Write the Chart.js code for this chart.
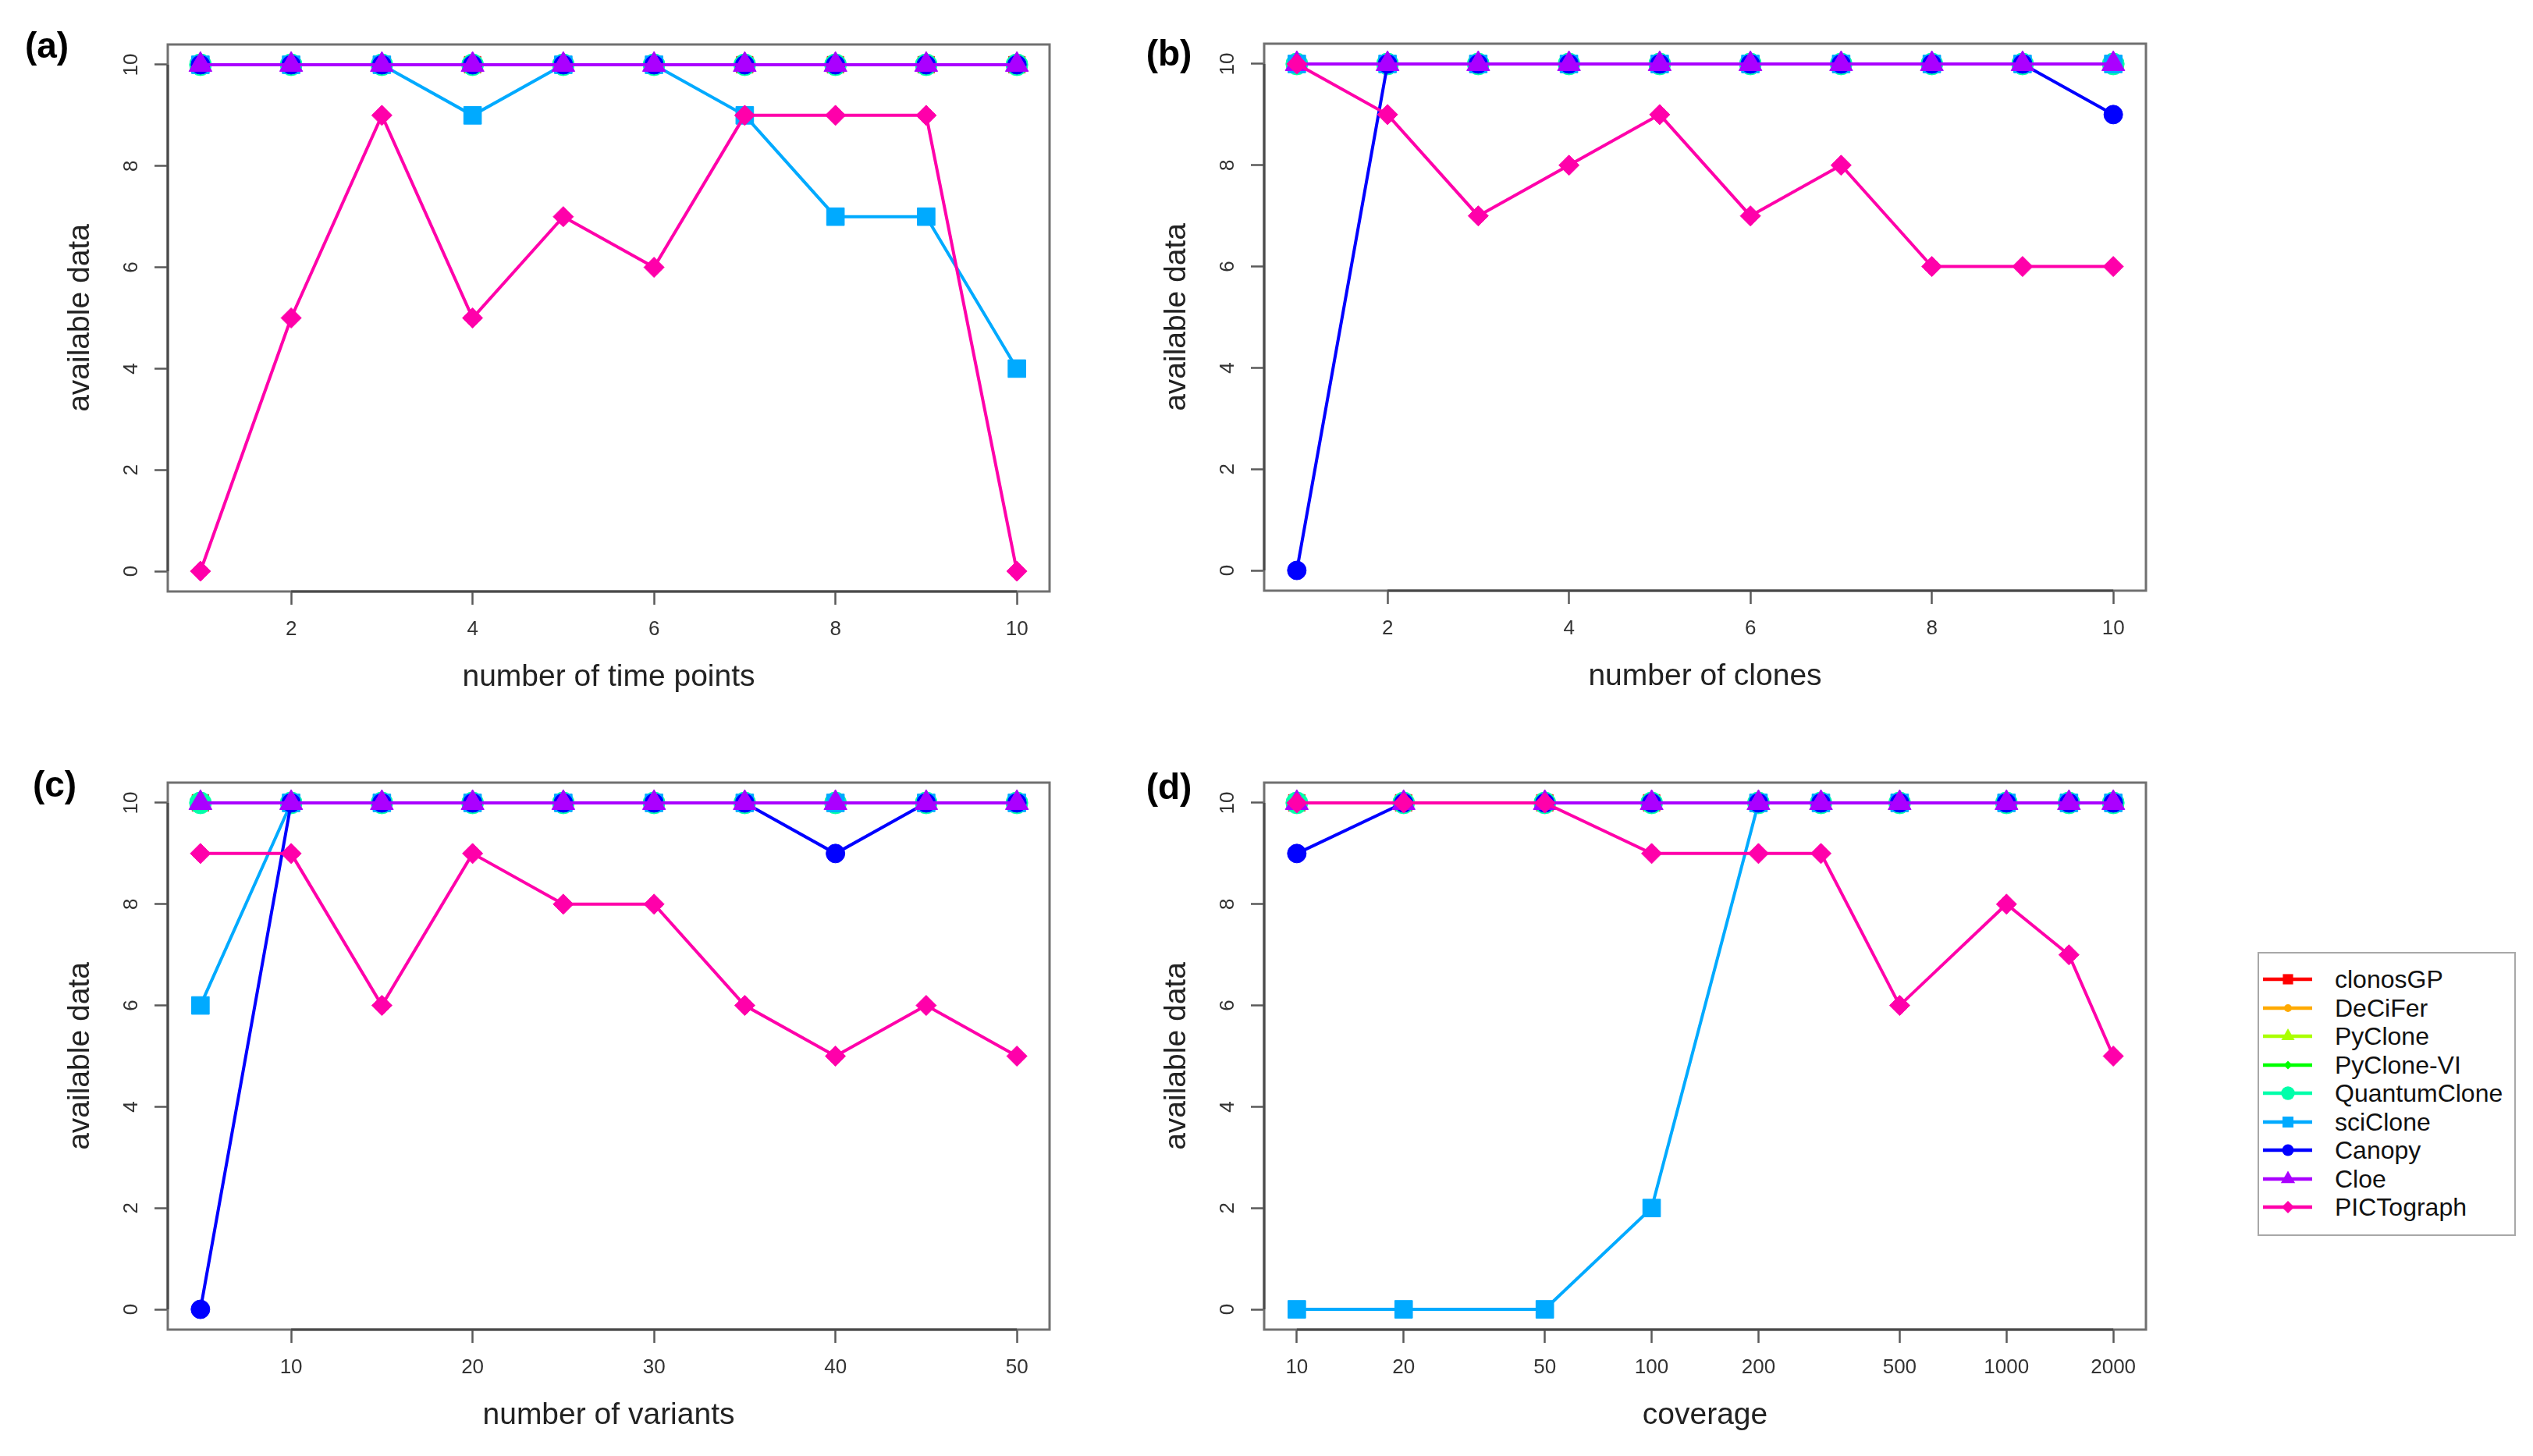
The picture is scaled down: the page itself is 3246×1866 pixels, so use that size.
<!DOCTYPE html>
<html>
<head>
<meta charset="utf-8">
<title>available data</title>
<script src="https://cdn.jsdelivr.net/npm/chart.js@4.4.1/dist/chart.umd.min.js"></script>
<style>
  html, body { margin: 0; padding: 0; background: #fff; }
  #page { position: relative; width: 3246px; height: 1866px; overflow: hidden;
          font-family: "Liberation Sans", Arial, Helvetica, sans-serif; }
  canvas { position: absolute; }
  .tag { position: absolute; font-weight: bold; font-size: 46px; color: #000;
         transform: translate(-50%, -50%); line-height: 1; }
  #legend { position: absolute; left: 2893px; top: 1220px; width: 331px; height: 364px;
            border: 2px solid #a8a8a8; box-sizing: border-box; }
  .leg-text { position: absolute; font-size: 32px; color: #111; height: 40px; line-height: 40px; white-space: nowrap; }
  .leg-mark { position: absolute; }
</style>
</head>
<body>
<div id="page">
  <canvas id="chartA"></canvas>
  <canvas id="chartB"></canvas>
  <canvas id="chartC"></canvas>
  <canvas id="chartD"></canvas>
  <div class="tag" style="left:60px; top:58px;">(a)</div>
  <div class="tag" style="left:1498px; top:68px;">(b)</div>
  <div class="tag" style="left:70px; top:1005px;">(c)</div>
  <div class="tag" style="left:1498px; top:1008px;">(d)</div>
  <div id="legend"></div>
</div>
<script>
// methods, in drawing order (last one ends up on top)
const methods = ['clonosGP', 'DeCiFer', 'PyClone', 'PyClone-VI', 'QuantumClone', 'sciClone', 'Canopy', 'Cloe', 'PICTograph'];
const colors = ['#FF0000', '#FFAA00', '#AAFF00', '#00FF00', '#00FFAA', '#00AAFF', '#0000FF', '#AA00FF', '#FF00AA'];
const markers = ['rect', 'circle', 'triangle', 'rectRot', 'circle', 'rect', 'circle', 'triangle', 'rectRot'];
const markerRadius = [15, 8, 16, 9, 14, 16, 12, 17, 13];

// (a) number of time points
const timePoints = [1, 2, 3, 4, 5, 6, 7, 8, 9, 10];
const timeData = [
  [10, 10, 10, 10, 10, 10, 10, 10, 10, 10], // clonosGP
  [10, 10, 10, 10, 10, 10, 10, 10, 10, 10], // DeCiFer
  [10, 10, 10, 10, 10, 10, 10, 10, 10, 10], // PyClone
  [10, 10, 10, 10, 10, 10, 10, 10, 10, 10], // PyClone-VI
  [10, 10, 10, 10, 10, 10, 10, 10, 10, 10], // QuantumClone
  [10, 10, 10, 9, 10, 10, 9, 7, 7, 4],      // sciClone
  [10, 10, 10, 10, 10, 10, 10, 10, 10, 10], // Canopy
  [10, 10, 10, 10, 10, 10, 10, 10, 10, 10], // Cloe
  [0, 5, 9, 5, 7, 6, 9, 9, 9, 0]            // PICTograph
];

// (b) number of clones
const clones = [1, 2, 3, 4, 5, 6, 7, 8, 9, 10];
const clonesData = [
  [10, 10, 10, 10, 10, 10, 10, 10, 10, 10],
  [10, 10, 10, 10, 10, 10, 10, 10, 10, 10],
  [10, 10, 10, 10, 10, 10, 10, 10, 10, 10],
  [10, 10, 10, 10, 10, 10, 10, 10, 10, 10],
  [10, 10, 10, 10, 10, 10, 10, 10, 10, 10],
  [10, 10, 10, 10, 10, 10, 10, 10, 10, 10],
  [0, 10, 10, 10, 10, 10, 10, 10, 10, 9],
  [10, 10, 10, 10, 10, 10, 10, 10, 10, 10],
  [10, 9, 7, 8, 9, 7, 8, 6, 6, 6]
];

// (c) number of variants
const variants = [5, 10, 15, 20, 25, 30, 35, 40, 45, 50];
const variantsData = [
  [10, 10, 10, 10, 10, 10, 10, 10, 10, 10],
  [10, 10, 10, 10, 10, 10, 10, 10, 10, 10],
  [10, 10, 10, 10, 10, 10, 10, 10, 10, 10],
  [10, 10, 10, 10, 10, 10, 10, 10, 10, 10],
  [10, 10, 10, 10, 10, 10, 10, 10, 10, 10],
  [6, 10, 10, 10, 10, 10, 10, 10, 10, 10],
  [0, 10, 10, 10, 10, 10, 10, 9, 10, 10],
  [10, 10, 10, 10, 10, 10, 10, 10, 10, 10],
  [9, 9, 6, 9, 8, 8, 6, 5, 6, 5]
];

// (d) coverage (log axis)
const coverage = [10, 20, 50, 100, 200, 300, 500, 1000, 1500, 2000];
const coverageData = [
  [10, 10, 10, 10, 10, 10, 10, 10, 10, 10],
  [10, 10, 10, 10, 10, 10, 10, 10, 10, 10],
  [10, 10, 10, 10, 10, 10, 10, 10, 10, 10],
  [10, 10, 10, 10, 10, 10, 10, 10, 10, 10],
  [10, 10, 10, 10, 10, 10, 10, 10, 10, 10],
  [0, 0, 0, 2, 10, 10, 10, 10, 10, 10],
  [9, 10, 10, 10, 10, 10, 10, 10, 10, 10],
  [10, 10, 10, 10, 10, 10, 10, 10, 10, 10],
  [10, 10, 10, 9, 9, 9, 6, 8, 7, 5]
];

const yTicks = [0, 2, 4, 6, 8, 10];
const timeTicks = [2, 4, 6, 8, 10];
const clonesTicks = [2, 4, 6, 8, 10];
const variantsTicks = [10, 20, 30, 40, 50];
const coverageTicks = [10, 20, 50, 100, 200, 500, 1000, 2000];

const FONT = "'Liberation Sans', Arial, Helvetica, sans-serif";
Chart.defaults.font.family = FONT;

// panel geometry: plot box is 1130 x 701, axes take 215 left / 172 below
const CW = 1400, CH = 930, Y_AXIS_W = 215, X_AXIS_H = 172, PAD_TOP = 57, PAD_RIGHT = 55;

// R-like axis range: data range extended 4% each side
function rRange(lo, hi, log) {
  if (log) {
    const a = Math.log10(lo), b = Math.log10(hi), d = (b - a) * 0.04;
    return [Math.pow(10, a - d), Math.pow(10, b + d)];
  }
  const d = (hi - lo) * 0.04;
  return [lo - d, hi + d];
}

const boxPlugin = {
  id: 'rbox',
  afterDraw(chart) {
    const { ctx, chartArea: a, scales: { x, y } } = chart;
    ctx.save();
    ctx.strokeStyle = '#707070';
    ctx.lineWidth = 3;
    ctx.strokeRect(a.left, a.top, a.right - a.left, a.bottom - a.top);
    // axis line runs only from first to last tick, like base R
    const xs = x.ticks.map(t => x.getPixelForValue(t.value));
    const ys = y.ticks.map(t => y.getPixelForValue(t.value));
    ctx.strokeStyle = '#4a4a4a';
    ctx.beginPath();
    ctx.moveTo(xs[0], a.bottom); ctx.lineTo(xs[xs.length - 1], a.bottom);
    ctx.moveTo(a.left, ys[0]); ctx.lineTo(a.left, ys[ys.length - 1]);
    ctx.stroke();
    ctx.restore();
  }
};

function makePanel(id, left, top, xVals, data, xTicks, xType, xTitle) {
  const canvas = document.getElementById(id);
  canvas.width = CW; canvas.height = CH;
  canvas.style.left = left + 'px';
  canvas.style.top = top + 'px';
  canvas.style.width = CW + 'px';
  canvas.style.height = CH + 'px';

  const xr = rRange(xVals[0], xVals[xVals.length - 1], xType === 'logarithmic');
  const yr = rRange(0, 10, false);

  const datasets = methods.map((m, i) => ({
    label: m,
    data: xVals.map((v, j) => ({ x: v, y: data[i][j] })),
    borderColor: colors[i],
    backgroundColor: colors[i],
    borderWidth: 4,
    pointStyle: markers[i],
    pointRadius: markerRadius[i],
    pointBackgroundColor: colors[i],
    pointBorderColor: colors[i],
    pointBorderWidth: 1,
    tension: 0,
    fill: false,
    order: methods.length - i
  }));

  const gridOpts = { display: true, drawOnChartArea: false, drawTicks: true, tickLength: 17, tickColor: '#5a5a5a', tickWidth: 2.5 };

  return new Chart(canvas.getContext('2d'), {
    type: 'line',
    data: { datasets },
    plugins: [boxPlugin],
    options: {
      responsive: false,
      animation: false,
      devicePixelRatio: 1,
      layout: { padding: { top: PAD_TOP, right: PAD_RIGHT, left: 0, bottom: 0 } },
      plugins: { legend: { display: false }, tooltip: { enabled: false } },
      scales: {
        x: {
          type: xType,
          min: xr[0], max: xr[1],
          afterBuildTicks: s => { s.ticks = xTicks.map(v => ({ value: v })); },
          afterFit: s => { s.height = X_AXIS_H; },
          grid: gridOpts,
          border: { display: false },
          ticks: { autoSkip: false, minRotation: 0, maxRotation: 0, padding: 16, color: '#333',
                   font: { size: 26 }, callback: v => String(v) },
          title: { display: true, text: xTitle, color: '#222', font: { size: 39 }, padding: { top: 0, bottom: 38 } }
        },
        y: {
          type: 'linear',
          min: yr[0], max: yr[1],
          afterBuildTicks: s => { s.ticks = yTicks.map(v => ({ value: v })); },
          afterFit: s => { s.width = Y_AXIS_W; },
          grid: gridOpts,
          border: { display: false },
          ticks: { autoSkip: false, minRotation: 90, maxRotation: 90, crossAlign: 'center', padding: 15,
                   color: '#333', font: { size: 26 }, callback: v => String(v) },
          title: { display: true, text: 'available data', color: '#222', font: { size: 39 }, padding: { top: 80, bottom: 0 } }
        }
      }
    }
  });
}

makePanel('chartA', 0, 0, timePoints, timeData, timeTicks, 'linear', 'number of time points');
makePanel('chartB', 1405, -1, clones, clonesData, clonesTicks, 'linear', 'number of clones');
makePanel('chartC', 0, 946, variants, variantsData, variantsTicks, 'linear', 'number of variants');
makePanel('chartD', 1405, 946, coverage, coverageData, coverageTicks, 'logarithmic', 'coverage');

// legend: line sample + marker + name
const page = document.getElementById('page');
const SVGNS = 'http://www.w3.org/2000/svg';
methods.forEach((m, i) => {
  const cy = 1255 + i * 36.5;
  const svg = document.createElementNS(SVGNS, 'svg');
  svg.setAttribute('width', 80);
  svg.setAttribute('height', 40);
  svg.setAttribute('class', 'leg-mark');
  svg.style.left = '2893px';
  svg.style.top = (cy - 20) + 'px';
  const line = document.createElementNS(SVGNS, 'line');
  line.setAttribute('x1', 7); line.setAttribute('x2', 70);
  line.setAttribute('y1', 20); line.setAttribute('y2', 20);
  line.setAttribute('stroke', colors[i]);
  line.setAttribute('stroke-width', 4.5);
  svg.appendChild(line);
  const r = markerRadius[i] * 0.62, cx = 39, c = 20;
  let shape;
  if (markers[i] === 'circle') {
    shape = document.createElementNS(SVGNS, 'circle');
    shape.setAttribute('cx', cx); shape.setAttribute('cy', c); shape.setAttribute('r', r);
  } else if (markers[i] === 'rect') {
    const h = r * Math.SQRT1_2;
    shape = document.createElementNS(SVGNS, 'rect');
    shape.setAttribute('x', cx - h); shape.setAttribute('y', c - h);
    shape.setAttribute('width', 2 * h); shape.setAttribute('height', 2 * h);
  } else if (markers[i] === 'rectRot') {
    shape = document.createElementNS(SVGNS, 'polygon');
    shape.setAttribute('points', `${cx - r},${c} ${cx},${c - r} ${cx + r},${c} ${cx},${c + r}`);
  } else {
    shape = document.createElementNS(SVGNS, 'polygon');
    shape.setAttribute('points', `${cx},${c - r} ${cx + 0.866 * r},${c + 0.5 * r} ${cx - 0.866 * r},${c + 0.5 * r}`);
  }
  shape.setAttribute('fill', colors[i]);
  svg.appendChild(shape);
  page.appendChild(svg);

  const txt = document.createElement('div');
  txt.className = 'leg-text';
  txt.style.left = '2992px';
  txt.style.top = (cy - 20) + 'px';
  txt.textContent = m;
  page.appendChild(txt);
});
</script>
</body>
</html>
